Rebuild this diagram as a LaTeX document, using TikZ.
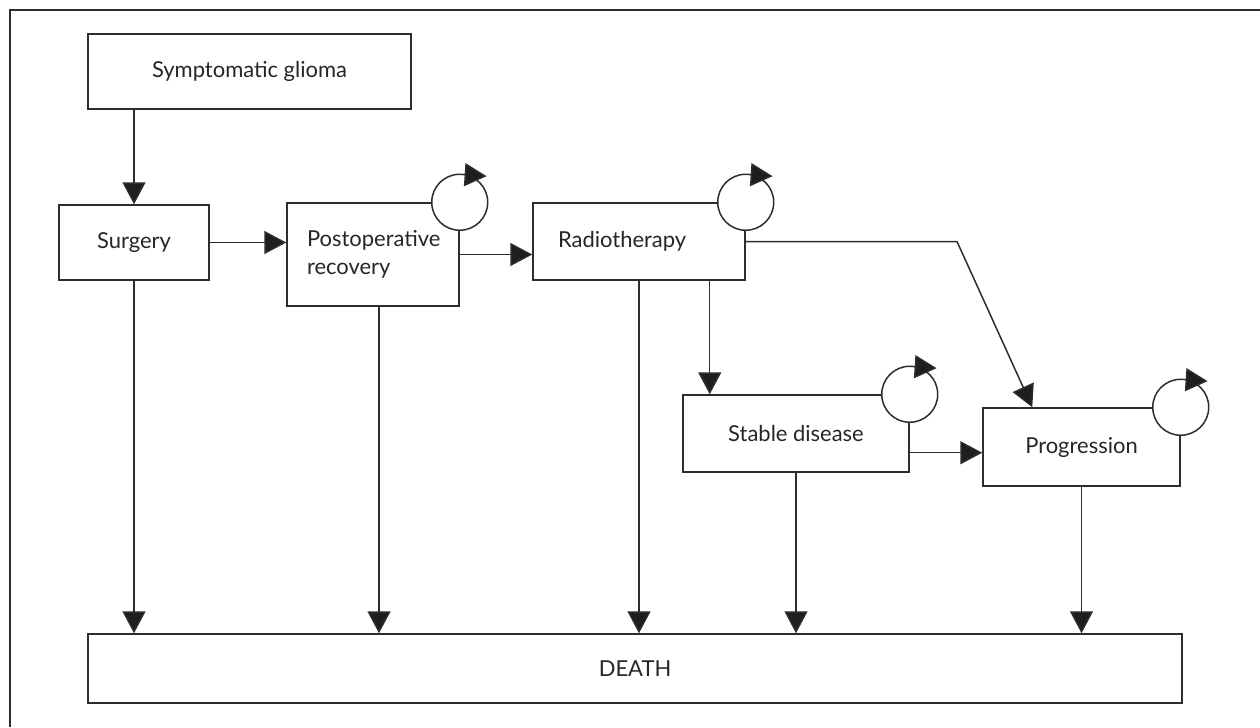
\documentclass[tikz,border=0pt]{standalone}
\usepackage{fontspec}
\setmainfont{Lato}
\usepackage{tikz}
\usetikzlibrary{arrows.meta, positioning, calc}
\definecolor{gmline}{RGB}{45,45,45}
\definecolor{gmtip}{RGB}{30,30,30}

\begin{document}
\begin{tikzpicture}[x=0.02cm, y=-0.02cm,
  box/.style={draw=gmline, line width=0.85pt, rectangle, inner sep=0pt,
    font=\fontsize{12.5pt}{16pt}\selectfont, text=black!85},
  arr/.style={draw=gmline, line width=0.85pt,
    -{Triangle[length=0.44cm, width=0.46cm, fill=gmtip]}},
  loopc/.style={draw=gmline, line width=0.85pt, fill=white}]
\useasboundingbox (0,0) rectangle (1260,727);

% frame
\draw[gmline, line width=0.85pt] (1260,10) -- (10,10) -- (10,727);

% ---- states ----
\node[box, minimum width=6.46cm, minimum height=1.5cm] (glioma) at (249.5,71.5) {Symptomatic glioma};
\node[box, minimum width=3.0cm, minimum height=1.5cm] (surgery) at (134,242.5) {Surgery};
\node[box, minimum height=2.06cm, text width=2.64cm, inner xsep=0.4cm, align=left] (postop) at (373,254.5)
  {Postoperative\\recovery};
\node[box, minimum height=1.54cm, text width=3.24cm, inner xsep=0.5cm, align=left] (radio) at (639,241.5)
  {Radiotherapy};
\node[box, minimum width=4.52cm, minimum height=1.54cm] (stable) at (796,433.5) {Stable disease};
\node[box, minimum width=3.94cm, minimum height=1.56cm] (prog) at (1081.5,447) {Progression};
\node[box, minimum width=21.88cm, minimum height=1.38cm] (death) at (635,668.5) {DEATH};

% ---- transitions ----
\coordinate (bend) at (957,243);
\draw[arr] (glioma.south -| surgery.north) -- (surgery.north);
\draw[arr] (surgery.east) -- (surgery.east -| postop.west);
\draw[arr] (postop.east) -- (postop.east -| radio.west);
\draw[arr] ([xshift=-0.72cm]radio.south east) -- ([xshift=-0.72cm]radio.south east |- stable.north);
\draw[arr] (radio.east) -- (radio.east -| bend) -- ([xshift=1cm]prog.north west);
\draw[arr] ([yshift=0.4cm]stable.south east) -- ([yshift=0.4cm]stable.south east -| prog.west);

% to death
\foreach \n in {surgery,radio,stable,prog}
  \draw[arr] (\n.south) -- (\n.south |- death.north);
\draw[arr] ([xshift=0.12cm]postop.south) -- ([xshift=0.12cm]postop.south |- death.north);

% ---- self loops ----
\foreach \n in {postop,radio,stable,prog}{
  \draw[loopc] (\n.north east) circle (0.56cm);
  \draw[arr] ($(\n.north east)+(80:0.56cm)$) -- ++(0.44cm,-0.03cm);
}
\end{tikzpicture}
\end{document}
